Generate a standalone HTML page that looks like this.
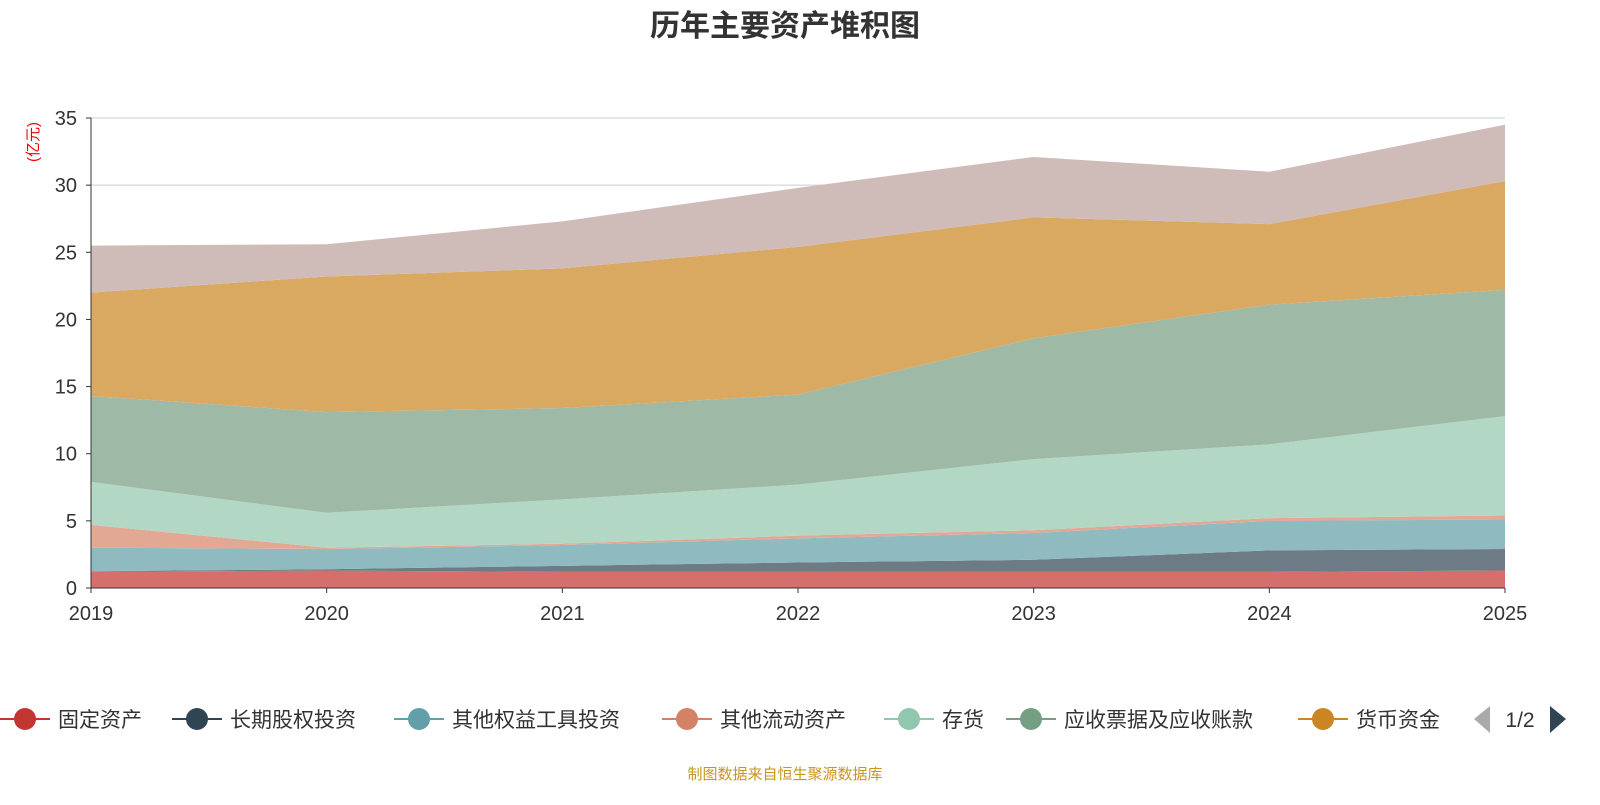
<!DOCTYPE html>
<html><head><meta charset="utf-8"><style>
body{margin:0;width:1600px;height:800px;background:#fff;overflow:hidden;font-family:"Liberation Sans","Noto Sans CJK SC",sans-serif}
</style></head><body>
<svg id="c" width="1600" height="800" xmlns="http://www.w3.org/2000/svg">
<text x="785" y="36" text-anchor="middle" font-size="30" font-weight="bold" fill="#333" font-family="Liberation Sans, Noto Sans CJK SC, sans-serif">历年主要资产堆积图</text>
<text transform="translate(38,142) rotate(-90)" text-anchor="middle" font-size="15" fill="#e00" font-family="Liberation Sans, Noto Sans CJK SC, sans-serif">(亿元)</text>
<g id="grid"></g><g id="areas"></g><g id="axes"></g><g id="legend"></g>
<text x="785" y="779" text-anchor="middle" font-size="15" fill="#c8961e" font-family="Liberation Sans, Noto Sans CJK SC, sans-serif">制图数据来自恒生聚源数据库</text>
</svg>
<script>
const years=['2019','2020','2021','2022','2023','2024','2025'];
const yTicks=[0,5,10,15,20,25,30,35];
const fixedAssets=[1.2,1.3,1.2,1.2,1.2,1.2,1.3];
const longEquity=[0.05,0.1,0.45,0.7,0.9,1.6,1.6];
const otherEquity=[1.75,1.5,1.55,1.8,2.0,2.2,2.2];
const otherCurrent=[1.7,0.1,0.1,0.2,0.2,0.2,0.3];
const inventory=[3.2,2.6,3.3,3.8,5.3,5.5,7.4];
const receivables=[6.4,7.5,6.8,6.7,9.0,10.4,9.4];
const cash=[7.7,10.1,10.4,11.0,9.0,6.0,8.1];
const otherTop=[3.5,2.4,3.5,4.4,4.5,3.9,4.2];
const seriesNames=['固定资产','长期股权投资','其他权益工具投资','其他流动资产','存货','应收票据及应收账款','货币资金','其他'];
const series=[fixedAssets,longEquity,otherEquity,otherCurrent,inventory,receivables,cash,otherTop];
const fills=['#d46f6c','#6c7b85','#8fbac0','#e3a894','#b2d7c5','#9eb9a6','#d9a962','#cfbcb8'];
const legendColors=['#c23531','#2f4554','#61a0a8','#d48265','#91c7ae','#749f83','#ca8622'];
const NS='http://www.w3.org/2000/svg';
const X0=91,X1=1505,Y0=588,Y1=118,YMAX=35;
const xs=i=>X0+(X1-X0)*i/(years.length-1);
const ys=v=>Y0-(Y0-Y1)*v/YMAX;
function mk(t,a,p){const e=document.createElementNS(NS,t);for(const k in a)e.setAttribute(k,a[k]);p.appendChild(e);return e;}
const grid=document.getElementById('grid'),axes=document.getElementById('axes'),areas=document.getElementById('areas'),leg=document.getElementById('legend');
yTicks.forEach(v=>{
 if(v>0){const l=mk('line',{x1:X0,x2:X1,y1:ys(v),y2:ys(v),stroke:'#ccc'},grid);
 
 }
 const t=mk('text',{x:X0-14,y:ys(v)+7,'text-anchor':'end','font-size':20,fill:'#333'},axes);t.textContent=v;
 
 
 mk('line',{x1:X0-5,x2:X0,y1:ys(v),y2:ys(v),stroke:'#333'},axes);
});
let base=years.map(()=>0);
series.forEach((s,k)=>{
 const top=base.map((b,i)=>b+s[i]);
 let d='M'+top.map((v,i)=>xs(i)+','+ys(v)).join('L');
 for(let i=years.length-1;i>=0;i--)d+='L'+xs(i)+','+ys(base[i]);
 const p=mk('path',{d:d+'Z',fill:fills[k]},areas);
 
 
 base=top;
});
mk('line',{x1:X0,x2:X0,y1:Y1,y2:Y0,stroke:'#333'},axes);
mk('line',{x1:X0,x2:X1,y1:Y0,y2:Y0,stroke:'#333'},axes);
years.forEach((y,i)=>{
 mk('line',{x1:xs(i),x2:xs(i),y1:Y0,y2:Y0+5,stroke:'#333'},axes);
 const t=mk('text',{x:xs(i),y:Y0+32,'text-anchor':'middle','font-size':20,fill:'#333'},axes);t.textContent=y;
 
 
});
const lx=[0,172,394,662,884,1006,1298];
legendColors.forEach((c,k)=>{
 const g=mk('g',{},leg);
 
 
 mk('line',{x1:lx[k],x2:lx[k]+50,y1:719,y2:719,stroke:c,'stroke-width':2},g);
 mk('circle',{cx:lx[k]+25,cy:719,r:11,fill:c},g);
 const t=mk('text',{x:lx[k]+58,y:727,'font-size':21,fill:'#333'},g);t.textContent=seriesNames[k];
});
const pg=mk('g',{},leg);


mk('path',{d:'M1490,706L1474,719L1490,733Z',fill:'#aaa'},pg);
const pt=mk('text',{x:1520,y:727,'text-anchor':'middle','font-size':21,fill:'#333'},pg);pt.textContent='1/2';
mk('path',{d:'M1550,706L1566,719L1550,733Z',fill:'#2f4554'},pg);
</script>
</body></html>
